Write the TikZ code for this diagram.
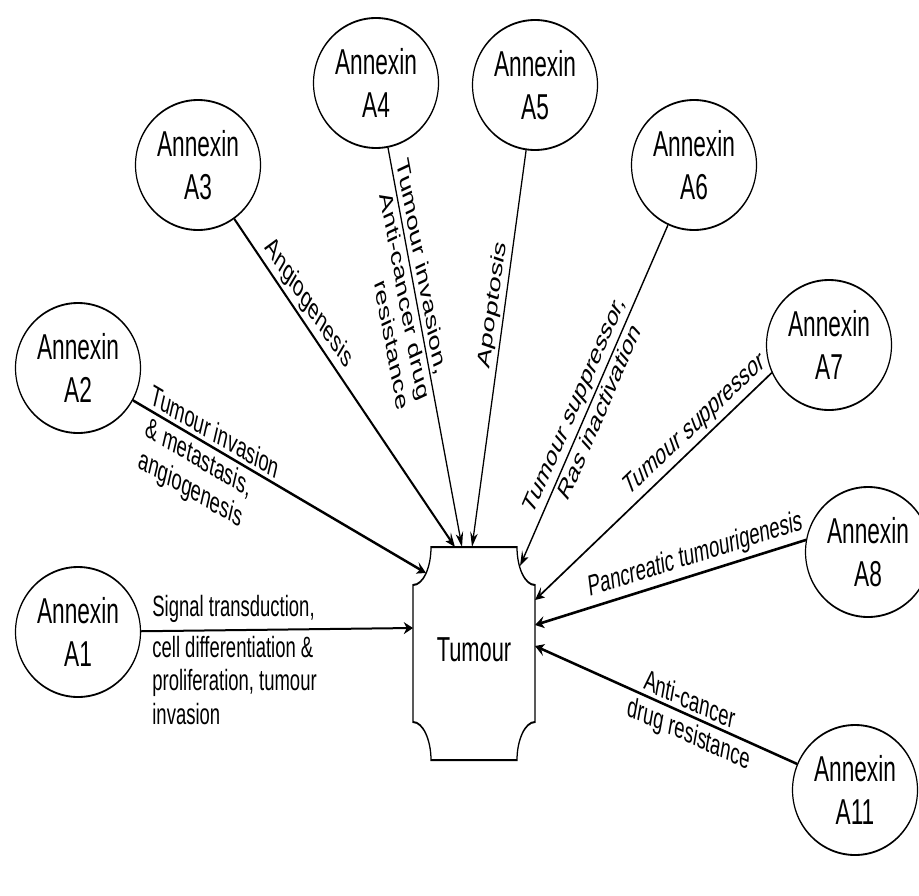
\documentclass[tikz,border=0pt]{standalone}
\usepackage{fontspec}
\setmainfont{Liberation Sans}
\usetikzlibrary{shapes.geometric,arrows.meta}
\begin{document}
\begin{tikzpicture}[x=0.75pt,y=-0.75pt]
\useasboundingbox (0,0) rectangle (919,895);
\begin{scope}[transform canvas={xscale=0.63}, x=1.190476pt, y=-0.75pt,
  annex/.style={draw, line width=1.4pt, ellipse, minimum width=148.8pt, minimum height=97.5pt,
    inner sep=0pt, align=center, font=\fontsize{27}{32}\selectfont},
  link/.style={draw, line width=1.5pt, -{Stealth[length=11pt,width=9pt]}},
  boldlink/.style={link, line width=2pt},
  lab/.style={font=\fontsize{22}{25}\selectfont, inner sep=3pt},
  tbox/.style={draw, line width=1.5pt}
]
% Tumour box
\draw[tbox] (431,547) -- (517,547) .. controls (517,568) and (525,585) .. (535,585)
  -- (535,722) .. controls (525,722) and (517,740) .. (517,760)
  -- (431,760) .. controls (431,740) and (423,722) .. (413,722)
  -- (413,585) .. controls (423,585) and (431,568) .. (431,547) -- cycle;
\node[font=\fontsize{26}{30}\selectfont] (T) at (474,650) {Tumour};
% targets on the box
\coordinate (t1) at (413,628);
\coordinate (t2) at (426,573);
\coordinate (t3) at (455,547);
\coordinate (t4) at (462,547);
\coordinate (t5) at (472,547);
\coordinate (t6) at (520,566);
\coordinate (t7) at (535,600);
\coordinate (t8) at (535,625);
\coordinate (t11) at (535,646);
% circles
\node[annex] (A1) at (78,632) {Annexin\\A1};
\node[annex] (A2) at (78,368) {Annexin\\A2};
\node[annex] (A3) at (198,165) {Annexin\\A3};
\node[annex] (A4) at (376,83) {Annexin\\A4};
\node[annex] (A5) at (535,85) {Annexin\\A5};
\node[annex] (A6) at (694,165) {Annexin\\A6};
\node[annex] (A7) at (829,345) {Annexin\\A7};
\node[annex] (A8) at (868,552) {Annexin\\A8};
\node[annex] (A11) at (855,790) {Annexin\\A11};
% connectors
\draw[link] (A1) -- node[lab, pos=0.03, anchor=south west, inner ysep=6pt] {Signal transduction,}
  node[lab, pos=0.03, anchor=north west, align=left] {cell differentiation \&\\proliferation, tumour\\invasion} (t1);
\draw[boldlink] (A2) -- node[lab, sloped, pos=0.04, anchor=south west] {Tumour invasion}
  node[lab, sloped, pos=0.05, anchor=north west, align=left] {\& metastasis,\\angiogenesis} (t2);
\draw[boldlink] (A3) -- node[lab, sloped, pos=0.3, above] {Angiogenesis} (t3);
\draw[link] (A4) -- node[lab, sloped, pos=0.03, anchor=south west] {Tumour invasion,}
  node[lab, sloped, pos=0.09, anchor=north west, align=right] {Anti-cancer drug\\resistance} (t4);
\draw[link] (A5) -- node[lab, sloped, pos=0.4, above] {Apoptosis} (t5);
\draw[link] (A6) -- node[lab, sloped, pos=0.56, above] {Tumour suppressor,}
  node[lab, sloped, pos=0.52, below] {Ras inactivation} (t6);
\draw[link] (A7.197) -- node[lab, sloped, pos=0.3, above] {Tumour suppressor} (t7);
\draw[boldlink] (A8.173) -- node[lab, sloped, pos=0.4, above] {Pancreatic tumourigenesis} (t8);
\draw[boldlink] (A11) -- node[lab, sloped, pos=0.42, above] {Anti-cancer}
  node[lab, sloped, pos=0.4, below] {drug resistance} (t11);
\end{scope}
\end{tikzpicture}
\end{document}
